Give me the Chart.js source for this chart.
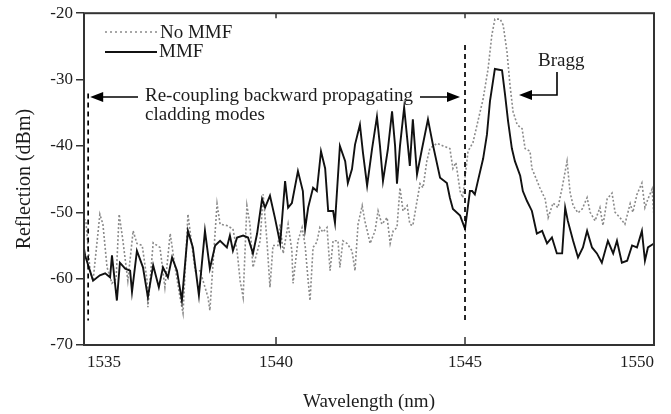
<!DOCTYPE html>
<html>
<head>
<meta charset="utf-8">
<script src="https://cdn.jsdelivr.net/npm/chart.js@4.4.1/dist/chart.umd.min.js"></script>
<style>
  html, body { margin: 0; padding: 0; background: #fff; }
</style>
</head>
<body>
<canvas id="chart" width="671" height="414"></canvas>
<script>
// Reflection spectra with / without MMF section
const xTicks = [1535, 1540, 1545, 1550];
const yTicks = [-70, -60, -50, -40, -30, -20];

// [wavelength nm, reflection dBm]
const noMmfPoints = [
  [1534.92, -51], [1534.97, -51.3], [1535.08, -58.8], [1535.16, -60.3], [1535.34, -50.3], [1535.42, -51.8],
  [1535.53, -58.3], [1535.66, -60.7], [1535.77, -60], [1535.85, -50.3], [1535.95, -54.3], [1536.08, -60.3],
  [1536.22, -52.8], [1536.32, -54.7], [1536.46, -55], [1536.59, -60.3], [1536.61, -64.3], [1536.75, -54.6],
  [1536.93, -55.3], [1537.06, -61.3], [1537.20, -53.2], [1537.33, -58.3], [1537.46, -62.8], [1537.54, -65.2],
  [1537.67, -50.3], [1537.86, -58.8], [1537.99, -58.8], [1538.20, -62.8], [1538.25, -64.8], [1538.44, -48.7],
  [1538.52, -51.8], [1538.70, -52], [1538.86, -52.5], [1538.97, -55.8], [1539.05, -60.3], [1539.13, -62.8],
  [1539.23, -49], [1539.31, -51.8], [1539.39, -58.3], [1539.58, -54.3], [1539.66, -47.3], [1539.76, -54.3],
  [1539.84, -61.3], [1539.92, -55], [1540.05, -55], [1540.11, -51.8], [1540.19, -56.2], [1540.32, -51.8],
  [1540.42, -55.8], [1540.45, -60.7], [1540.58, -54.3], [1540.69, -52.3], [1540.77, -55], [1540.85, -60.3],
  [1540.90, -63.3], [1540.98, -55.3], [1541.08, -54.5], [1541.16, -52.3], [1541.24, -53], [1541.35, -52.3],
  [1541.43, -58.8], [1541.51, -54.3], [1541.64, -54.3], [1541.69, -58.3], [1541.77, -54.3], [1541.88, -54.7],
  [1542.01, -55.8], [1542.09, -58.8], [1542.17, -51.8], [1542.28, -49], [1542.35, -51.3], [1542.43, -53.2],
  [1542.49, -54.7], [1542.62, -52.8], [1542.70, -49.8], [1542.80, -51.8], [1542.94, -50.8], [1543.02, -54.7],
  [1543.10, -52.8], [1543.20, -52.3], [1543.28, -46.3], [1543.36, -49.8], [1543.47, -49], [1543.54, -51.8],
  [1543.62, -52], [1543.73, -48.3], [1543.81, -45.7], [1543.89, -46.3], [1543.99, -42.3], [1544.07, -40.4],
  [1544.26, -39.6], [1544.42, -40], [1544.60, -40.4], [1544.68, -43.4], [1544.76, -42.5], [1544.87, -46.8],
  [1544.94, -47.8], [1545.08, -40.8], [1545.21, -39.5], [1545.32, -36.8], [1545.48, -32.9], [1545.61, -28.4],
  [1545.71, -23.3], [1545.79, -20.9], [1545.93, -20.9], [1546.01, -21.8], [1546.11, -25.8], [1546.19, -30.8],
  [1546.27, -34.8], [1546.38, -36.8], [1546.51, -37.4], [1546.59, -40.4], [1546.72, -40.8], [1546.77, -43.4],
  [1546.85, -44.5], [1546.98, -46.3], [1547.12, -48], [1547.20, -50.8], [1547.33, -48.6], [1547.46, -49.3],
  [1547.57, -46.3], [1547.70, -42.3], [1547.78, -47], [1547.86, -49], [1547.99, -50.1], [1548.10, -49.5],
  [1548.23, -47.8], [1548.31, -50], [1548.44, -51.3], [1548.57, -49.3], [1548.65, -52], [1548.76, -48],
  [1548.89, -47.1], [1548.97, -50], [1549.10, -50.8], [1549.23, -51.8], [1549.37, -48.7], [1549.44, -50],
  [1549.55, -47.3], [1549.68, -45.6], [1549.76, -49.3], [1549.84, -48], [1549.95, -46.5], [1550.00, -50.8]
];

const mmfPoints = [
  [1534.92, -55.5], [1534.95, -56.5], [1535.16, -60.3], [1535.34, -59.5], [1535.48, -59.2], [1535.61, -59.8],
  [1535.66, -56.5], [1535.79, -63.3], [1535.87, -57.6], [1536.01, -58.5], [1536.14, -58.8], [1536.19, -62],
  [1536.32, -55.8], [1536.48, -58.3], [1536.61, -62.8], [1536.75, -58], [1536.90, -61.3], [1537.01, -58.3],
  [1537.14, -59.8], [1537.25, -56.8], [1537.38, -58.8], [1537.51, -63.3], [1537.67, -52.8], [1537.80, -55.3],
  [1537.96, -62.5], [1538.12, -52.8], [1538.25, -58.5], [1538.39, -55], [1538.52, -54.3], [1538.70, -55.3],
  [1538.78, -53.5], [1538.86, -55.8], [1538.97, -53.8], [1539.13, -53.5], [1539.26, -53.8], [1539.39, -56.2],
  [1539.50, -53.2], [1539.63, -48], [1539.71, -49.3], [1539.84, -47.5], [1539.97, -50.8], [1540.11, -54.7],
  [1540.24, -45.3], [1540.32, -49.3], [1540.42, -48.6], [1540.58, -43.8], [1540.71, -46.8], [1540.77, -52.5],
  [1540.85, -49.3], [1540.98, -46.3], [1541.08, -46.8], [1541.19, -40.8], [1541.30, -43.4], [1541.38, -49.8],
  [1541.51, -49.8], [1541.56, -51.6], [1541.69, -40], [1541.83, -42.3], [1541.90, -45.6], [1542.01, -43.5],
  [1542.09, -39.8], [1542.22, -36.8], [1542.30, -41], [1542.41, -46], [1542.54, -40.5], [1542.67, -35.6],
  [1542.75, -40], [1542.83, -45.3], [1542.96, -40.5], [1543.07, -34.8], [1543.15, -40], [1543.20, -45.7],
  [1543.28, -40], [1543.39, -34.2], [1543.49, -40], [1543.54, -43], [1543.62, -36], [1543.73, -44.3],
  [1543.86, -40.5], [1544.02, -36], [1544.15, -39.8], [1544.34, -44.8], [1544.52, -45.6], [1544.60, -47.8],
  [1544.68, -49.5], [1544.87, -50.5], [1545.00, -52.5], [1545.13, -46.8], [1545.19, -46.8], [1545.26, -47.3],
  [1545.34, -45.3], [1545.48, -41.9], [1545.58, -38.3], [1545.66, -33.3], [1545.79, -28.4], [1545.98, -28.6],
  [1546.06, -32.3], [1546.14, -36.3], [1546.24, -40.4], [1546.32, -42.3], [1546.46, -44.5], [1546.53, -46.8],
  [1546.64, -48.3], [1546.77, -49.8], [1546.90, -53.2], [1547.04, -52.8], [1547.17, -54.7], [1547.30, -53.8],
  [1547.43, -56.2], [1547.57, -56.2], [1547.65, -49.3], [1547.72, -51.3], [1547.86, -54.3], [1547.99, -56.8],
  [1548.12, -55.3], [1548.23, -52.8], [1548.36, -55.3], [1548.49, -56.2], [1548.62, -57.6], [1548.78, -54.3],
  [1548.92, -56.2], [1549.02, -54.3], [1549.15, -57.6], [1549.29, -57.3], [1549.42, -55], [1549.55, -55.3],
  [1549.68, -52.8], [1549.76, -57.3], [1549.84, -55.3], [1550.00, -54.7]
];

// dashed guides bounding the cladding-mode band (nm, dBm top/bottom)
const bandMarkers = [
  { wl: 1535.03, top: -32.1, bottom: -66.3 },
  { wl: 1545.0, top: -24.8, bottom: -66.5 }
];

const SERIF = "'Liberation Serif', 'Times New Roman', serif";
const INK = '#1c1c1c';
const FRAME = '#333';
const GRAY = '#8a8a8a';

const toXY = pts => pts.map(p => ({ x: p[0], y: p[1] }));

function line(ctx, x1, y1, x2, y2) {
  ctx.beginPath();
  ctx.moveTo(x1, y1);
  ctx.lineTo(x2, y2);
  ctx.stroke();
}

// filled arrow head at (tx,ty) pointing in direction dx (+1 right, -1 left)
function arrowHead(ctx, tx, ty, dx) {
  ctx.beginPath();
  ctx.moveTo(tx, ty);
  ctx.lineTo(tx - dx * 13, ty - 5);
  ctx.lineTo(tx - dx * 13, ty + 5);
  ctx.closePath();
  ctx.fill();
}

// frame, inward ticks, legend and the annotations
const overlay = {
  id: 'overlay',
  afterDraw(chart) {
    const { ctx, chartArea: a, scales: { x, y } } = chart;
    ctx.save();

    ctx.strokeStyle = FRAME;
    ctx.lineWidth = 2;
    ctx.strokeRect(a.left, a.top, a.right - a.left, a.bottom - a.top);
    ctx.lineWidth = 1.5;
    xTicks.forEach(v => {
      const px = x.getPixelForValue(v);
      if (px < a.left + 5 || px > a.right - 5) return;
      line(ctx, px, a.bottom, px, a.bottom - 8);
      line(ctx, px, a.top, px, a.top + 5);
    });

    // dashed band edges
    ctx.strokeStyle = '#000';
    ctx.lineWidth = 1.7;
    ctx.setLineDash([5, 4]);
    bandMarkers.forEach(m => {
      const px = x.getPixelForValue(m.wl);
      line(ctx, px, y.getPixelForValue(m.top), px, y.getPixelForValue(m.bottom));
    });
    ctx.setLineDash([]);

    // legend
    ctx.fillStyle = INK;
    ctx.font = `19px ${SERIF}`;
    ctx.textBaseline = 'alphabetic';
    ctx.textAlign = 'left';
    ctx.strokeStyle = GRAY;
    ctx.lineWidth = 1.6;
    ctx.setLineDash([2, 3]);
    line(ctx, 105, 32, 158, 32);
    ctx.setLineDash([]);
    ctx.strokeStyle = '#111';
    ctx.lineWidth = 2;
    line(ctx, 105, 52, 157, 52);
    ctx.fillText('No MMF', 160, 38);
    ctx.fillText('MMF', 159, 57);

    // cladding-mode band label + arrows
    const leftPx = x.getPixelForValue(bandMarkers[0].wl);
    const rightPx = x.getPixelForValue(bandMarkers[1].wl);
    ctx.fillText('Re-coupling backward propagating', 145, 101);
    ctx.fillText('cladding modes', 145, 120);
    ctx.strokeStyle = '#000';
    ctx.fillStyle = '#000';
    ctx.lineWidth = 1.6;
    line(ctx, 138, 97, leftPx + 8, 97);
    arrowHead(ctx, leftPx + 2, 97, -1);
    line(ctx, 420, 97, rightPx - 10, 97);
    arrowHead(ctx, rightPx - 5, 97, 1);

    // Bragg label with elbow arrow
    ctx.fillStyle = INK;
    ctx.fillText('Bragg', 538, 66);
    ctx.fillStyle = '#000';
    ctx.beginPath();
    ctx.moveTo(557, 72);
    ctx.lineTo(557, 95);
    ctx.lineTo(528, 95);
    ctx.stroke();
    arrowHead(ctx, 519, 95, -1);

    ctx.restore();
  }
};

new Chart(document.getElementById('chart'), {
  type: 'line',
  data: {
    datasets: [
      {
        label: 'No MMF',
        data: toXY(noMmfPoints),
        borderColor: GRAY,
        borderWidth: 1.6,
        borderDash: [2, 2],
        pointRadius: 0,
        tension: 0,
        order: 2
      },
      {
        label: 'MMF',
        data: toXY(mmfPoints),
        borderColor: '#111',
        borderWidth: 1.9,
        pointRadius: 0,
        tension: 0,
        order: 1
      }
    ]
  },
  options: {
    responsive: false,
    animation: false,
    layout: { padding: { top: 11, right: 17, left: 0, bottom: 0 } },
    plugins: {
      legend: { display: false },
      tooltip: { enabled: false }
    },
    scales: {
      x: {
        type: 'linear',
        min: 1534.92,
        max: 1550,
        afterBuildTicks: s => { s.ticks = xTicks.map(v => ({ value: v })); },
        afterFit: s => { s.height = 69; },
        grid: { display: false, drawTicks: false },
        border: { display: false },
        ticks: {
          align: 'inner',
          padding: 7,
          color: INK,
          font: { family: SERIF, size: 17 },
          callback: v => String(v)
        },
        title: {
          display: true,
          text: 'Wavelength (nm)',
          color: INK,
          font: { family: SERIF, size: 19 },
          padding: { top: 0, bottom: 1 }
        }
      },
      y: {
        min: -70,
        max: -20,
        afterBuildTicks: s => { s.ticks = yTicks.map(v => ({ value: v })); },
        afterFit: s => { s.width = 84; },
        grid: { display: true, drawOnChartArea: false, drawTicks: true, tickLength: 8, color: FRAME, lineWidth: 1.5 },
        border: { display: false },
        ticks: {
          padding: 3,
          color: INK,
          font: { family: SERIF, size: 17 },
          callback: v => String(v)
        },
        title: {
          display: true,
          text: 'Reflection (dBm)',
          color: INK,
          font: { family: SERIF, size: 20 },
          padding: { top: 13, bottom: 0 }
        }
      }
    }
  },
  plugins: [overlay]
});
</script>
</body>
</html>
